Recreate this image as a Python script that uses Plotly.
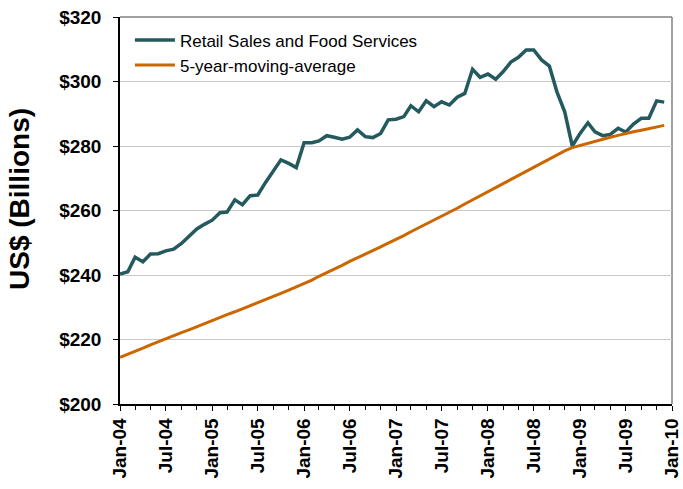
import pandas as pd
import plotly.graph_objects as go

# Monthly observations, Jan 2004 through Dec 2009 (US$ billions)
months = pd.date_range("2004-01-01", "2009-12-01", freq="MS")

retail_sales = [
    240.3, 241.0, 245.5, 244.1, 246.5, 246.6, 247.5, 248.0, 249.8, 252.1, 254.3, 255.7,
    257.0, 259.3, 259.5, 263.3, 261.8, 264.6, 264.8, 268.7, 272.2, 275.7, 274.6, 273.3,
    281.0, 281.0, 281.6, 283.2, 282.7, 282.1, 282.7, 285.0, 282.9, 282.6, 283.9, 288.1,
    288.3, 289.1, 292.5, 290.6, 294.0, 292.2, 293.7, 292.7, 295.1, 296.3, 303.8, 301.3,
    302.3, 300.7, 303.0, 306.0, 307.5, 309.8, 309.8, 306.7, 304.8, 296.8, 290.6, 280.0,
    283.9, 287.2, 284.4, 283.2, 283.6, 285.5, 284.3, 286.8, 288.6, 288.6, 294.0, 293.6,
]

moving_average = [
    214.5, 215.4, 216.4, 217.3, 218.3, 219.2, 220.2, 221.1, 222.1, 223.0, 224.0, 224.9,
    225.9, 226.8, 227.7, 228.6, 229.5, 230.4, 231.3, 232.3, 233.3, 234.3, 235.3, 236.3,
    237.3, 238.4, 239.6, 240.7, 241.9, 243.0, 244.2, 245.3, 246.4, 247.6, 248.7, 249.9,
    251.0, 252.2, 253.4, 254.6, 255.8, 257.0, 258.2, 259.5, 260.7, 262.0, 263.3, 264.5,
    265.8, 267.1, 268.4, 269.6, 270.9, 272.2, 273.5, 274.8, 276.0, 277.3, 278.5, 279.5,
    280.2, 280.8, 281.5, 282.1, 282.7, 283.3, 283.9, 284.4, 284.9, 285.4, 285.9, 286.4,
]

series_names = ["Retail Sales and Food Services", "5-year-moving-average"]
series_colors = ["#245A5E", "#CC6600"]
y_title = "US$ (Billions)"

fig = go.Figure()
fig.add_trace(go.Scatter(
    x=months, y=retail_sales, mode="lines", name=series_names[0],
    line=dict(color=series_colors[0], width=3.5),
))
fig.add_trace(go.Scatter(
    x=months, y=moving_average, mode="lines", name=series_names[1],
    line=dict(color=series_colors[1], width=3),
))

FONT = "Liberation Sans, Arial, sans-serif"
tick_font = dict(family=FONT, size=19, color="#000000", weight="bold")

fig.update_layout(
    width=683, height=489,
    margin=dict(l=120, r=11, t=17, b=85, autoexpand=False),
    paper_bgcolor="white", plot_bgcolor="white",
    showlegend=True,
    legend=dict(
        x=0.018, y=0.986, xanchor="left", yanchor="top",
        itemwidth=40,
        font=dict(family=FONT, size=17, color="#000000"),
        bgcolor="rgba(0,0,0,0)", borderwidth=0, tracegroupgap=0,
    ),
    xaxis=dict(
        type="date",
        range=["2004-01-01", "2010-01-01"],
        tickmode="linear", tick0="2004-01-01", dtick="M6",
        tickformat="%b-%y", tickangle=-90,
        ticks="outside", ticklen=5, tickcolor="#000000",
        minor=dict(dtick="M2", ticks="outside", ticklen=4, tickcolor="#000000", showgrid=False),
        showgrid=False, showline=True, linecolor="#000000", linewidth=1.5,
        tickfont=tick_font, automargin=False,
    ),
    yaxis=dict(
        range=[200, 320], tickmode="linear", tick0=200, dtick=20,
        tickprefix="$",
        ticks="outside", ticklen=5, tickcolor="#000000",
        ticklabelstandoff=8,
        showgrid=True, gridcolor="#C8C8C8", gridwidth=1.2,
        showline=True, linecolor="#000000", linewidth=1.5,
        tickfont=tick_font, automargin=False,
    ),
)

# Vertical axis title, set slightly above the plot's centre line
fig.add_annotation(
    text=y_title, xref="paper", yref="paper", x=-0.181, y=0.53,
    xanchor="center", yanchor="middle", textangle=-90, showarrow=False,
    font=dict(family=FONT, size=28, color="#000000", weight="bold"),
)

# Grey frame along the top and right of the plotting area
fig.add_shape(type="line", xref="paper", yref="paper", x0=0, x1=1, y0=1, y1=1,
              line=dict(color="#7F7F7F", width=1.5), layer="below")
fig.add_shape(type="line", xref="paper", yref="paper", x0=1, x1=1, y0=0, y1=1,
              line=dict(color="#7F7F7F", width=1.5), layer="below")

fig.write_html("out.html")
